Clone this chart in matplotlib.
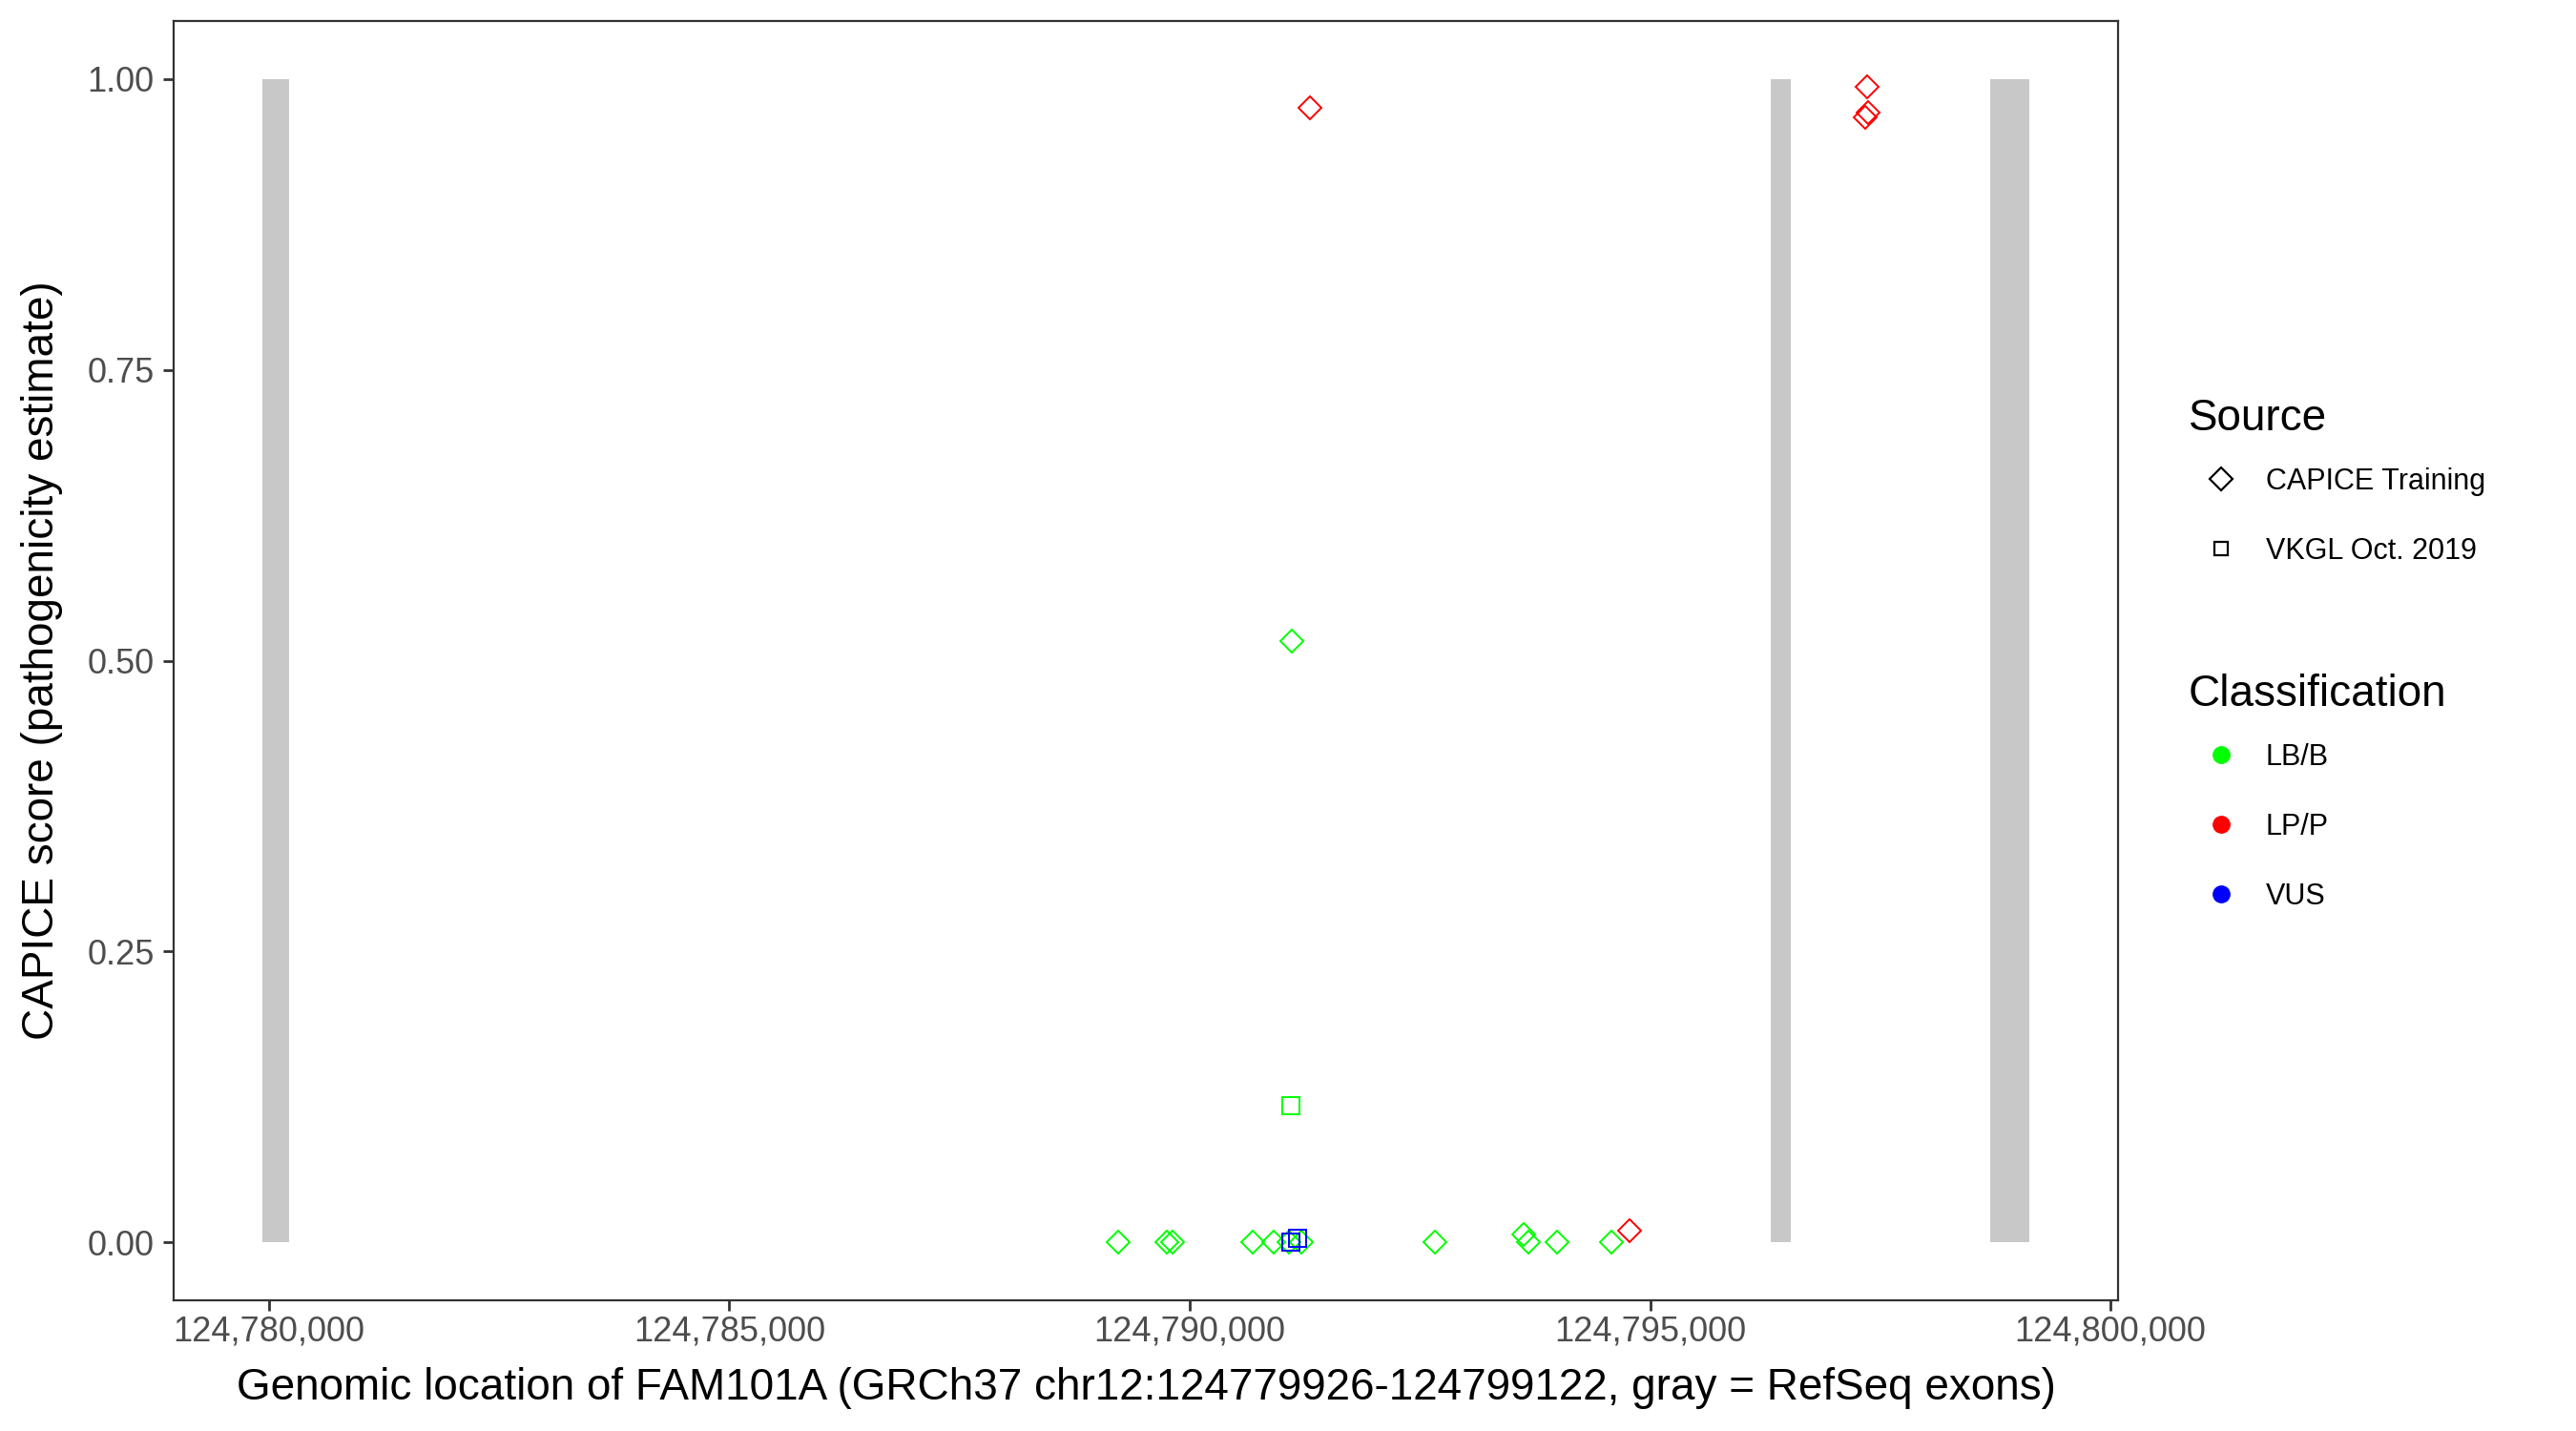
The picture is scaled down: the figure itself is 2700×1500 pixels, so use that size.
import matplotlib
matplotlib.use("Agg")
import matplotlib.pyplot as plt
from matplotlib.lines import Line2D
from matplotlib.ticker import FuncFormatter

plt.rcParams["font.family"] = ["Liberation Sans", "DejaVu Sans"]

# RefSeq exons of FAM101A
exon_start = [124779926, 124796313, 124798692]
exon_end = [124780225, 124796530, 124799122]

# CAPICE training variants (diamonds)
capice_lb_pos = [124789225, 124789756, 124789816, 124790687, 124790910, 124791075,
                 124791214, 124791112, 124792660, 124793623, 124793678, 124793988, 124794581]
capice_lb_score = [0.0, 0.0, 0.0, 0.0, 0.0, 0.0, 0.0, 0.517, 0.0, 0.007, 0.0, 0.0, 0.0]
capice_lp_pos = [124791301, 124797361, 124797368, 124797337, 124794780]
capice_lp_score = [0.975, 0.993, 0.971, 0.967, 0.010]

# VKGL Oct. 2019 variants (squares)
vkgl_lb_pos = [124791104]
vkgl_lb_score = [0.1175]
vkgl_vus_pos = [124791104, 124791175]
vkgl_vus_score = [0.0, 0.003]

GREEN, RED, BLUE = "#00FF00", "#FF0000", "#0000FF"
DMS, SMS, MEW = 12, 12.5, 1.4

fig = plt.figure(figsize=(27, 15), dpi=100)
ax = fig.add_axes([182 / 2700, 1 - 1363 / 1500, (2220 - 182) / 2700, (1363 - 22) / 1500])

# exons as gray bars
widths = [e - s for s, e in zip(exon_start, exon_end)]
ax.bar(exon_start, [1] * len(exon_start), width=widths, bottom=0, align="edge",
       color="#C8C8C8", linewidth=0, zorder=1)

ax.plot(capice_lb_pos, capice_lb_score, "D", ls="none", mfc="none", mec=GREEN, ms=DMS, mew=MEW, zorder=3)
ax.plot(capice_lp_pos, capice_lp_score, "D", ls="none", mfc="none", mec=RED, ms=DMS, mew=MEW, zorder=3)
ax.plot(vkgl_lb_pos, vkgl_lb_score, "s", ls="none", mfc="none", mec=GREEN, ms=SMS, mew=MEW, zorder=3)
ax.plot(vkgl_vus_pos, vkgl_vus_score, "s", ls="none", mfc="none", mec=BLUE, ms=SMS, mew=MEW, zorder=3)

lo, hi = min(exon_start), max(exon_end)
pad = 0.05 * (hi - lo)
ax.set_xlim(lo - pad, hi + pad)
ax.set_ylim(-0.05, 1.05)
ax.set_xticks([124780000, 124785000, 124790000, 124795000, 124800000])
ax.set_yticks([0, 0.25, 0.5, 0.75, 1.0])
ax.xaxis.set_major_formatter(FuncFormatter(lambda v, p: f"{int(v):,}"))
ax.yaxis.set_major_formatter(FuncFormatter(lambda v, p: f"{v:.2f}"))
ax.tick_params(length=7.7, width=2.0, color="#333333", labelsize=26, labelcolor="#4D4D4D")
ax.tick_params(axis="x", pad=3.5)
ax.tick_params(axis="y", pad=7)
for s in ax.spines.values():
    s.set_color("#333333")
    s.set_linewidth(1.6)

ax.set_xlabel("Genomic location of FAM101A (GRCh37 chr12:124779926-124799122, gray = RefSeq exons)",
              fontsize=33, labelpad=14)
ax.set_ylabel("CAPICE score (pathogenicity estimate)", fontsize=33, labelpad=18)

src_handles = [
    Line2D([], [], marker="D", ls="none", mfc="none", mec="black", ms=DMS, mew=1.6),
    Line2D([], [], marker="s", ls="none", mfc="none", mec="black", ms=SMS * 0.85, mew=1.6),
]
cls_handles = [
    Line2D([], [], marker="o", ls="none", color=c, ms=12.5) for c in (GREEN, RED, BLUE)
]
common = dict(frameon=False, fontsize=22, title_fontsize=33, handlelength=2.2,
              handletextpad=0.45, labelspacing=1.4, borderpad=0, borderaxespad=0,
              loc="upper left")
leg1 = fig.legend(src_handles, ["CAPICE Training", "VKGL Oct. 2019"], title="Source",
                  bbox_to_anchor=(2294 / 2700, 1 - 417 / 1500), **common)
leg2 = fig.legend(cls_handles, ["LB/B", "LP/P", "VUS"], title="Classification",
                  bbox_to_anchor=(2294 / 2700, 1 - 706 / 1500), **common)
for leg in (leg1, leg2):
    leg._legend_box.align = "left"
    leg._legend_box.sep = 21

fig.savefig("out.png", dpi=100)
